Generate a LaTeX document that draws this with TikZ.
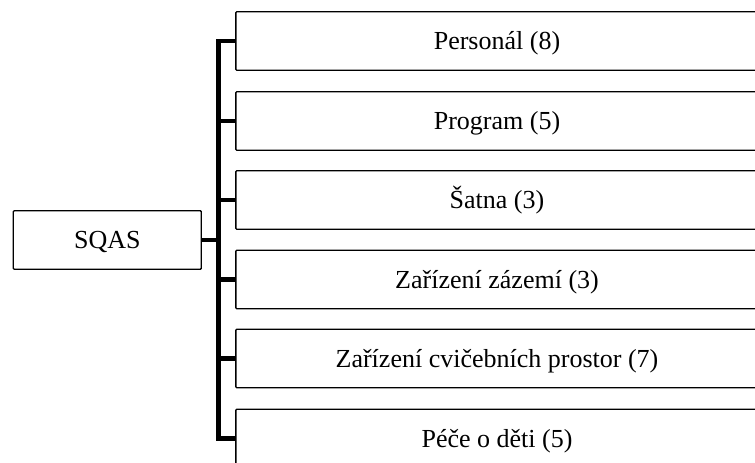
\documentclass[tikz,border=0pt]{standalone}
\usepackage{fontspec}
\setmainfont{Liberation Serif}
\begin{document}
\begin{tikzpicture}[x=1pt,y=-1pt,
  box/.style={draw=black, line width=1.3pt, rounded corners=1pt, inner sep=0pt,
    minimum height=58.6pt, text height=21.5pt, text depth=4.5pt,
    font=\fontsize{26}{30}\selectfont},
  item/.style={box, minimum width=522.3pt},
  branch/.style={draw=black, line width=4.5pt}]
\useasboundingbox (0,0) rectangle (755,463);
\clip (0,0) rectangle (755,463);
% root
\node[box, minimum width=188pt] (sqas) at (107.3,240) {SQAS};
% categories
\node[item] (b1) at (497,41)    {Personál (8)};
\node[item] (b2) at (497,121)   {Program (5)};
\node[item] (b3) at (497,200)   {Šatna (3)};
\node[item] (b4) at (497,279.5) {Zařízení zázemí (3)};
\node[item] (b5) at (497,358.5) {Zařízení cvičebních prostor (7)};
\node[item] (b6) at (497,438.5) {Péče o děti (5)};
% bracket
\coordinate (trunk) at (218.3,0);
\draw[branch] (b1.west) -- (b1.west -| trunk) -- (b6.west -| trunk) -- (b6.west);
\foreach \b in {b2,b3,b4,b5}
  \draw[branch] (\b.west -| trunk) -- (\b.west);
\draw[branch] (sqas.east) -- (sqas.east -| trunk);
\end{tikzpicture}
\end{document}
